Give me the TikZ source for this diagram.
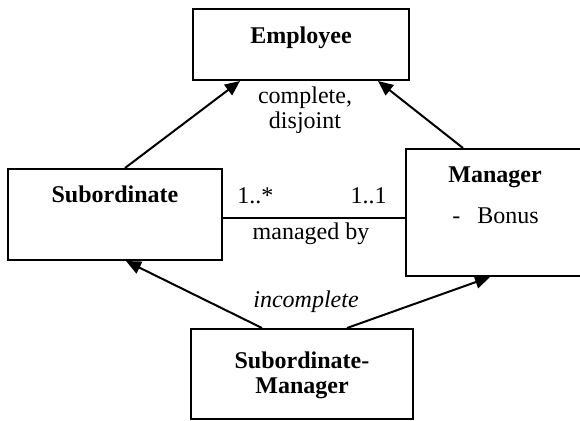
\documentclass[tikz,border=0pt]{standalone}
\usepackage{fontspec}
\setmainfont{Liberation Serif}
\usetikzlibrary{arrows.meta,calc}
\tikzset{
  cls/.style={draw, line width=1pt, rectangle, inner sep=0pt},
  txt/.style={inner sep=0pt, anchor=base, font=\fontsize{12}{12.5}\selectfont},
  btxt/.style={txt, font=\fontsize{12}{12.5}\selectfont\bfseries},
  gen/.style={line width=1pt, -{Triangle[length=7.5pt,width=6.5pt]}},
  assoc/.style={line width=1pt}
}
\begin{document}
\begin{tikzpicture}[x=0.5pt,y=-0.5pt]
\useasboundingbox (0,0) rectangle (580,420);
% class boxes
\node[cls, minimum width=108pt, minimum height=35.5pt] (emp) at (301,44.5) {};
\node[cls, minimum width=107pt, minimum height=45.5pt] (sub) at (115,214.5) {};
\node[cls, minimum width=88pt, minimum height=63.5pt] (mgr) at (494,212.5) {};
\node[cls, minimum width=111pt, minimum height=45pt] (sm) at (302,374) {};
% texts
\node[btxt] (empt) at (301,43) {Employee};
\node[btxt] (subt) at (115,202) {Subordinate};
\node[btxt] (mgrt) at (495,182) {Manager};
\node[txt, anchor=base west] (bonus) at (452,223) {-\hspace{8.5pt}Bonus};
\node[btxt, align=center] (smt) at (302,393) {Subordinate-\\Manager};
\node[txt, align=center] (cd) at (305,128) {complete,\\disjoint};
\node[txt, font=\fontsize{12}{12.5}\selectfont\itshape] (inc) at (306,307) {incomplete};
\node[txt, anchor=base west] (m1) at (237,203) {1..*};
\node[txt, anchor=base east] (m2) at (387,203) {1..1};
\node[txt] (mb) at (311,239) {managed by};
% generalisations
\draw[gen] ([xshift=5pt]sub.north) -- ([xshift=-30.5pt]emp.south);
\draw[gen] ([xshift=-15.5pt]mgr.north) -- ([xshift=38.5pt]emp.south);
\draw[gen] ([xshift=-20pt]sm.north) -- ([xshift=5.5pt]sub.south);
\draw[gen] ([xshift=22.5pt]sm.north) -- ([xshift=-2pt]mgr.south);
% association
\path ([yshift=-1.75pt]sub.east) coordinate (al);
\draw[assoc] (al) -- (al -| mgr.west);
\end{tikzpicture}
\end{document}
